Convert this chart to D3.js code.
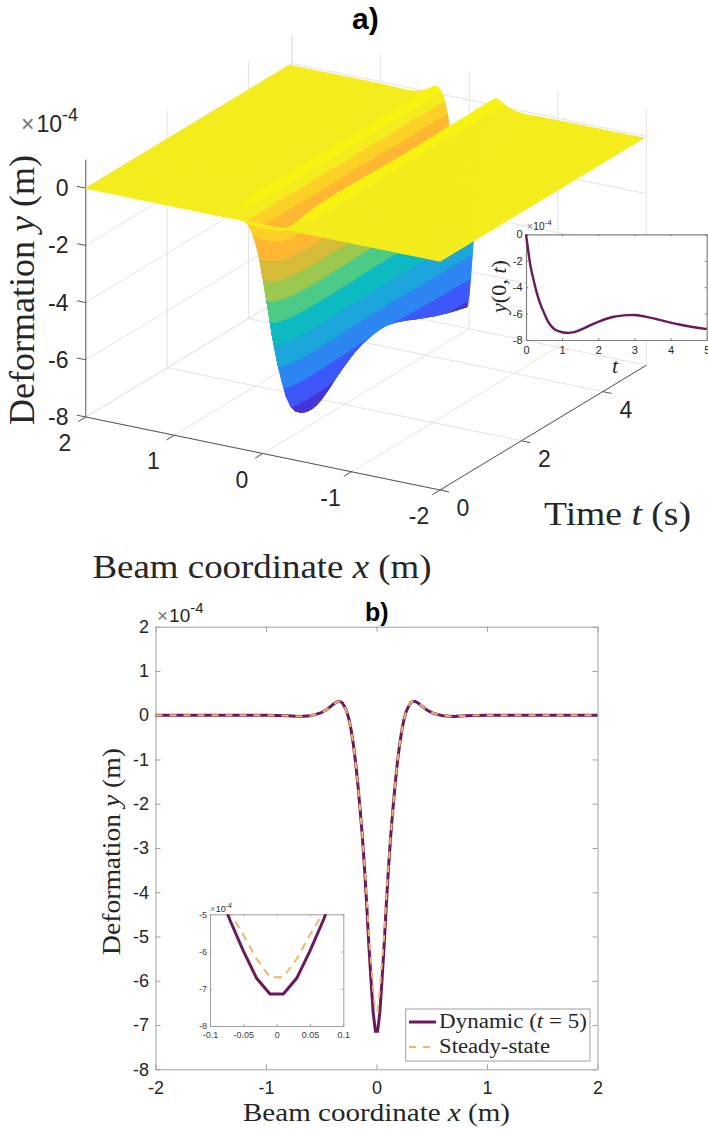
<!DOCTYPE html>
<html>
<head>
<meta charset="utf-8">
<script src="https://d3js.org/d3.v7.min.js"></script>
<style>
  html, body { margin: 0; padding: 0; background: #fff; }
  svg { display: block; }
  text { font-family: "Liberation Sans", Arial, sans-serif; fill: #262626; }
  .serif { font-family: "Liberation Serif", serif; }
  .tick text { font-family: "Liberation Sans", Arial, sans-serif; fill: #262626; }
</style>
</head>
<body>
<svg id="chart" width="708" height="1130"></svg>
<script>
//beam profile (x >= 0, mirrored for x < 0), values in 1e-4 m
var xSide = [0.01, 0.03, 0.05, 0.07, 0.09, 0.11, 0.13, 0.15, 0.17, 0.19, 0.21, 0.23, 0.25, 0.27, 0.29, 0.31,
             0.33, 0.35, 0.38, 0.42, 0.46, 0.5, 0.55, 0.6, 0.7, 0.8, 1, 1.5, 2];
var dynamicSide = [-7.14, -6.72, -5.98, -5.16, -4.22, -3.4, -2.68, -2.08, -1.53, -1.05, -0.65, -0.33, -0.08, 0.09, 0.2, 0.28,
                   0.31, 0.31, 0.27, 0.19, 0.11, 0.06, 0.02, -0.01, -0.03, -0.01, 0, 0, 0];
var steadySide = [-6.69, -6.2, -5.55, -4.95, -4.05, -3.35, -2.68, -2.08, -1.53, -1.05, -0.65, -0.33, -0.08, 0.09, 0.2, 0.28,
                  0.31, 0.31, 0.27, 0.19, 0.11, 0.06, 0.02, -0.01, -0.03, -0.01, 0, 0, 0];

//midpoint deflection
var timeT = [0, 0.05, 0.1, 0.15, 0.2, 0.3, 0.4, 0.5, 0.6, 0.7, 0.8, 0.9, 1, 1.1, 1.2, 1.3, 1.4, 1.6, 1.8,
             2, 2.2, 2.4, 2.6, 2.8, 3, 3.25, 3.5, 3.75, 4, 4.25, 4.5, 4.75, 5];
var timeY = [0, -1, -2, -2.75, -3.35, -4.45, -5.3, -5.95, -6.55, -6.95, -7.2, -7.33, -7.41, -7.45, -7.46, -7.42, -7.35, -7.12, -6.85,
             -6.62, -6.41, -6.26, -6.17, -6.12, -6.11, -6.2, -6.35, -6.52, -6.68, -6.83, -6.96, -7.07, -7.17];

//tick labels
var xTicks3d = [2, 1, 0, -1, -2];
var tTicks3d = [0, 2, 4];
var zTicks3d = [0, -2, -4, -6, -8];
var xTicksB = [-2, -1, 0, 1, 2];
var yTicksB = [2, 1, 0, -1, -2, -3, -4, -5, -6, -7, -8];
var tTicksInset = [0, 1, 2, 3, 4, 5];
var yTicksInset = [0, -2, -4, -6, -8];
var xTicksZoom = [-0.1, -0.05, 0, 0.05, 0.1];
var yTicksZoom = [-5, -6, -7, -8];

//colour bands of the surface
var bandEdges = [-99, -6.95, -6.15, -5.3, -4.45, -3.6, -2.8, -2.05, -1.3, -0.55, -0.12, 0.17, 99];
var bandColors = ['#4536d6', '#3d58fa', '#2d86f2', '#1ba6dc', '#0dbac2', '#4ccb86', '#9cc850',
                  '#d6bb38', '#ffb733', '#fbd126', '#f5ec1e', '#f7f312'];

var dynColor = '#6a1a5c', steadyColor = '#f0b566';

var beamX = xSide.map(function(d) { return -d; }).reverse().concat(xSide);
var beamDyn = dynamicSide.slice().reverse().concat(dynamicSide);
var beamSteady = steadySide.slice().reverse().concat(steadySide);

var svg = d3.select('#chart');

//the reference is a soft upscaled image
var blur = svg.append('defs').append('filter').attr('id', 'soft')
  .attr('x', '-5%').attr('y', '-5%').attr('width', '110%').attr('height', '110%');
blur.append('feGaussianBlur').attr('stdDeviation', 0.6);

// ---------- panel a: 3d box, orthographic, built from plain linear scales ----------
var tMaxAxis = 5.07;
var pxX = d3.scaleLinear().domain([2, -2]).range([85.8, 440]);
var pyX = d3.scaleLinear().domain([2, -2]).range([0, 73]);
var pxT = d3.scaleLinear().domain([0, 5]).range([0, 203.5]);
var pyT = d3.scaleLinear().domain([0, 5]).range([0, -123]);
var pyZ = d3.scaleLinear().domain([-8, 1]).range([417, 159.6]);

function project(x, t, z) {
  return [pxX(x) + pxT(t), pyZ(z) + pyX(x) + pyT(t)];
}

function seg(g, a, b, color, w) {
  var p = project(a[0], a[1], a[2]), q = project(b[0], b[1], b[2]);
  g.append('line')
    .attr('x1', p[0]).attr('y1', p[1])
    .attr('x2', q[0]).attr('y2', q[1])
    .attr('stroke', color).attr('stroke-width', w);
}

var a = svg.append('g');
var gridCol = '#e3e3e3';

//walls and floor
zTicks3d.forEach(function(z) {
  seg(a, [2, 0, z], [2, tMaxAxis, z], gridCol, 1);
  seg(a, [2, tMaxAxis, z], [-2, tMaxAxis, z], gridCol, 1);
});
[0, 2, 4].forEach(function(t) {
  seg(a, [2, t, -8], [-2, t, -8], gridCol, 1);
  if (t > 0) seg(a, [2, t, -8], [2, t, 1], gridCol, 1);
});
xTicks3d.forEach(function(x) {
  seg(a, [x, 0, -8], [x, tMaxAxis, -8], gridCol, 1);
  seg(a, [x, tMaxAxis, -8], [x, tMaxAxis, 1], gridCol, 1);
});
seg(a, [2, tMaxAxis, -8], [2, tMaxAxis, 1], gridCol, 1);

//axes and ticks
var axisCol = '#555';
seg(a, [2, 0, -8], [2, 0, 1], axisCol, 1);
seg(a, [2, 0, -8], [-2, 0, -8], axisCol, 1);
seg(a, [-2, 0, -8], [-2, tMaxAxis, -8], axisCol, 1);
zTicks3d.forEach(function(z) { seg(a, [2, 0, z], [2.1, 0, z], axisCol, 1); });
xTicks3d.forEach(function(x) { seg(a, [x, 0, -8], [x, -0.19, -8], axisCol, 1); });
tTicks3d.forEach(function(t) { seg(a, [-2, t, -8], [-2.1, t, -8], axisCol, 1); });

//surface: every sample is one read profile point times one read midpoint point
var surface = timeT.map(function(t, i) {
  return beamDyn.map(function(v) { return v / -7.15 * timeY[i]; });
});

//part of a triangle inside one z band
function clipBand(tri, lo, hi) {
  function clip(poly, keep, edge) {
    var out = [];
    poly.forEach(function(p, i) {
      var q = poly[(i + 1) % poly.length];
      if (keep(p[2])) out.push(p);
      if (keep(p[2]) !== keep(q[2])) {
        var f = (edge - p[2]) / (q[2] - p[2]);
        out.push([p[0] + f * (q[0] - p[0]), p[1] + f * (q[1] - p[1]), edge]);
      }
    });
    return out;
  }
  var r = clip(tri, function(z) { return z >= lo; }, lo);
  if (r.length) r = clip(r, function(z) { return z <= hi; }, hi);
  return r;
}

var patches = [];
function addTriangle(tri) {
  d3.range(bandColors.length).forEach(function(b) {
    var poly = clipBand(tri, bandEdges[b], bandEdges[b + 1]);
    if (poly.length > 2) patches.push({poly: poly, color: bandColors[b]});
  });
}

function corner(i, j) {
  return [beamX[j], timeT[i], surface[i][j]];
}

//painter's order: far corner (x = 2, t = 5) first
for (var i = timeT.length - 2; i >= 0; i--) {
  for (var j = beamX.length - 2; j >= 0; j--) {
    addTriangle([corner(i + 1, j + 1), corner(i, j + 1), corner(i + 1, j)]);
    addTriangle([corner(i, j), corner(i, j + 1), corner(i + 1, j)]);
  }
}

a.append('g')
  .attr('filter', 'url(#soft)')
  .selectAll('polygon')
  .data(patches)
  .enter()
  .append('polygon')
  .attr('points', function(d) {
    return d.poly.map(function(p) { return project(p[0], p[1], p[2]).join(','); }).join(' ');
  })
  .attr('fill', function(d) { return d.color; })
  .attr('stroke', function(d) { return d.color; })
  .attr('stroke-width', 1)
  .attr('stroke-linejoin', 'round');

//tick labels of the 3d box
a.selectAll('.zlab').data(zTicks3d).enter().append('text')
  .attr('class', 'zlab')
  .attr('x', 68.5)
  .attr('y', function(d) { return project(2, 0, d)[1] + 8; })
  .attr('text-anchor', 'end')
  .attr('font-size', 23)
  .text(function(d) { return String(d); });

a.selectAll('.xlab').data(xTicks3d).enter().append('text')
  .attr('class', 'xlab')
  .attr('x', function(d) { return project(d, 0, -8)[0] - 21; })
  .attr('y', function(d) { return project(d, 0, -8)[1] + 34; })
  .attr('text-anchor', 'middle')
  .attr('font-size', 23)
  .text(function(d) { return String(d); });

a.selectAll('.tlab').data(tTicks3d).enter().append('text')
  .attr('class', 'tlab')
  .attr('x', function(d) { return project(-2, d, -8)[0] + 23; })
  .attr('y', function(d) { return project(-2, d, -8)[1] + 26; })
  .attr('text-anchor', 'middle')
  .attr('font-size', 23)
  .text(function(d) { return String(d); });

function exponent(g, x, y, size, sup, gap) {
  var t = g.append('text').attr('x', x).attr('y', y).attr('font-size', size);
  t.append('tspan').attr('fill', '#777').text('\u00d7');
  t.append('tspan').attr('dx', gap).text('10');
  t.append('tspan').attr('font-size', sup).attr('dy', -size * 0.48).text('-4');
}
exponent(a, 21, 132, 23, 18, 2);

//serif label with an italic symbol in the middle
function mathLabel(g, x, y, rot, size, len, parts) {
  var t = g.append('text')
    .attr('class', 'serif')
    .attr('transform', 'translate(' + x + ',' + y + ') rotate(' + rot + ')')
    .attr('font-size', size)
    .attr('textLength', len)
    .attr('lengthAdjust', 'spacingAndGlyphs')
    .style('white-space', 'pre');
  parts.forEach(function(p) {
    t.append('tspan').attr('font-style', p[1] ? 'italic' : 'normal').text(p[0]);
  });
}
mathLabel(a, 34, 425, -90, 36, 270, [['Deformation ', 0], ['y', 1], [' (m)', 0]]);
mathLabel(a, 92.5, 578, 0, 34, 339, [['Beam coordinate ', 0], ['x', 1], [' (m)', 0]]);
mathLabel(a, 544, 525, 0, 34, 147, [['Time ', 0], ['t', 1], [' (s)', 0]]);

svg.append('text').attr('x', 352).attr('y', 29)
  .attr('font-size', 30).attr('font-weight', 'bold')
  .style('fill', '#000').text('a)');

// ---------- inset of panel a ----------
var ins = svg.append('g');
var insX = d3.scaleLinear().domain([0, 5]).range([526, 706.7]);
var insY = d3.scaleLinear().domain([-8, 0]).range([340, 234.3]);

ins.append('rect')
  .attr('x', 526).attr('y', 234.3).attr('width', 180.7).attr('height', 105.7)
  .attr('fill', '#fff');

function styleAxis(g, size, color, w) {
  g.selectAll('.domain').attr('stroke', color).attr('stroke-width', w);
  g.selectAll('.tick line').attr('stroke', color);
  g.selectAll('.tick text').attr('font-size', size);
}

function boxAxes(g, sx, sy, xt, yt, font, tick, padX, padY, color, w) {
  var r = sx.range(), h = sy.range();
  var bx = g.append('g').attr('transform', 'translate(0,' + h[0] + ')')
    .call(d3.axisBottom(sx).tickValues(xt).tickFormat(String).tickSizeInner(-tick).tickSizeOuter(0).tickPadding(padX));
  var tx = g.append('g').attr('transform', 'translate(0,' + h[1] + ')')
    .call(d3.axisTop(sx).tickValues(xt).tickFormat('').tickSizeInner(-tick).tickSizeOuter(0));
  var ly = g.append('g').attr('transform', 'translate(' + r[0] + ',0)')
    .call(d3.axisLeft(sy).tickValues(yt).tickFormat(String).tickSizeInner(-tick).tickSizeOuter(0).tickPadding(padY));
  var ry = g.append('g').attr('transform', 'translate(' + r[1] + ',0)')
    .call(d3.axisRight(sy).tickValues(yt).tickFormat('').tickSizeInner(-tick).tickSizeOuter(0));
  [bx, tx, ly, ry].forEach(function(s) { styleAxis(s, font, color, w); });
}

boxAxes(ins, insX, insY, tTicksInset, yTicksInset, 11, 2, 6, 3.5, '#808080', 1.2);

ins.append('path')
  .datum(timeT)
  .attr('fill', 'none')
  .attr('stroke', dynColor)
  .attr('stroke-width', 2.4)
  .attr('d', d3.line()
    .x(function(d) { return insX(d); })
    .y(function(d, i) { return insY(timeY[i]); })
    .curve(d3.curveMonotoneX));

exponent(ins, 527, 230, 10, 8, 0.5);
mathLabel(ins, 506, 313, -90, 22, 53, [['y', 1], ['(0, ', 0], ['t', 1], [')', 0]]);
ins.append('text').attr('class', 'serif').attr('x', 612).attr('y', 373)
  .attr('font-size', 22).attr('font-style', 'italic').text('t');

// ---------- panel b ----------
var b = svg.append('g');
var xB = d3.scaleLinear().domain([-2, 2]).range([155.5, 597.5]);
var yB = d3.scaleLinear().domain([-8, 2]).range([1069.3, 626.7]);

boxAxes(b, xB, yB, xTicksB, yTicksB, 18, 5, 11.5, 6.5, '#a0a0a0', 1);

var lineB = d3.line()
  .x(function(d) { return xB(d[0]); })
  .y(function(d) { return yB(d[1]); });

b.append('path')
  .datum(d3.zip(beamX, beamDyn))
  .attr('fill', 'none').attr('stroke', dynColor).attr('stroke-width', 3)
  .attr('d', lineB);
b.append('path')
  .datum(d3.zip(beamX, beamSteady))
  .attr('fill', 'none').attr('stroke', steadyColor).attr('stroke-width', 2)
  .attr('stroke-dasharray', '7,7')
  .attr('d', lineB);

exponent(b, 157, 622, 19, 15, 1);
mathLabel(b, 120, 955, -90, 26, 207, [['Deformation ', 0], ['y', 1], [' (m)', 0]]);
mathLabel(b, 243, 1120.5, 0, 25, 267, [['Beam coordinate ', 0], ['x', 1], [' (m)', 0]]);

svg.append('text').attr('x', 365).attr('y', 621)
  .attr('font-size', 25).attr('font-weight', 'bold')
  .style('fill', '#000').text('b)');

//legend
var leg = b.append('g');
leg.append('rect')
  .attr('x', 405.7).attr('y', 1009).attr('width', 184.3).attr('height', 52)
  .attr('fill', '#fff').attr('stroke', '#a0a0a0').attr('stroke-width', 1);
leg.append('line').attr('x1', 409).attr('x2', 436).attr('y1', 1022).attr('y2', 1022)
  .attr('stroke', dynColor).attr('stroke-width', 3);
leg.append('line').attr('x1', 409).attr('x2', 436).attr('y1', 1047).attr('y2', 1047)
  .attr('stroke', steadyColor).attr('stroke-width', 2).attr('stroke-dasharray', '7,7');
mathLabel(leg, 439, 1028, 0, 20, 148, [['Dynamic (', 0], ['t', 1], [' = 5)', 0]]);
mathLabel(leg, 439, 1053, 0, 20, 111, [['Steady-state', 0]]);

// ---------- inset of panel b ----------
var zoomG = b.append('g');
var xZ = d3.scaleLinear().domain([-0.1, 0.1]).range([210, 343.3]);
var yZ = d3.scaleLinear().domain([-8, -5]).range([1026, 914.3]);

zoomG.append('rect').attr('x', 210).attr('y', 914.3).attr('width', 133.3).attr('height', 111.7).attr('fill', '#fff');
boxAxes(zoomG, xZ, yZ, xTicksZoom, yTicksZoom, 9, 2, 5.6, 3, '#a0a0a0', 1);
zoomG.selectAll('.tick text').style('fill', '#404040');

svg.append('clipPath').attr('id', 'zoomClip').append('rect')
  .attr('x', 210).attr('y', 914.3).attr('width', 133.3).attr('height', 111.7);

var lineZ = d3.line()
  .x(function(d) { return xZ(d[0]); })
  .y(function(d) { return yZ(d[1]); });

zoomG.append('path')
  .datum(d3.zip(beamX, beamDyn))
  .attr('clip-path', 'url(#zoomClip)')
  .attr('fill', 'none').attr('stroke', dynColor).attr('stroke-width', 3)
  .attr('d', lineZ);
zoomG.append('path')
  .datum(d3.zip(beamX, beamSteady))
  .attr('clip-path', 'url(#zoomClip)')
  .attr('fill', 'none').attr('stroke', steadyColor).attr('stroke-width', 2)
  .attr('stroke-dasharray', '8,6')
  .attr('d', lineZ);

exponent(zoomG, 210, 912, 9, 7, 0.5);
</script>
</body>
</html>
